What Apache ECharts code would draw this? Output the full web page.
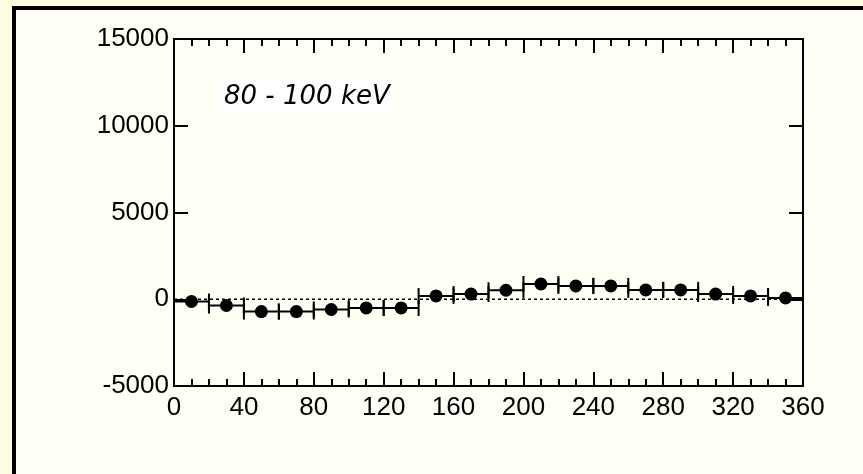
<!DOCTYPE html>
<html>
<head>
<meta charset="utf-8">
<script src="https://cdn.jsdelivr.net/npm/echarts@6/dist/echarts.min.js"></script>
<style>
  html, body { margin: 0; padding: 0; background: #FFFDE1; }
  #frame { position: absolute; left: 12px; top: 6px; width: 900px; height: 520px;
           border: 4px solid #000; background: #FFFFF6; }
  #main { position: absolute; left: 0; top: 0; width: 863px; height: 474px; }
</style>
</head>
<body>
<div id="frame"></div>
<div id="main"></div>
<script>
// bin centres (deg) and counts
var angles = [10, 30, 50, 70, 90, 110, 130, 150, 170, 190, 210, 230, 250, 270, 290, 310, 330, 350];
var counts = [-130, -360, -710, -710, -590, -500, -500, 190, 300, 520, 880, 770, 770, 540, 540, 300, 190, 75];
var xTicks = [0, 40, 80, 120, 160, 200, 240, 280, 320, 360];
var yTicks = [-5000, 0, 5000, 10000, 15000];
var binHalf = 10;

var points = angles.map(function (a, i) { return [a, counts[i]]; });

var chart = echarts.init(document.getElementById('main'));

var labelFont = { color: '#000', fontFamily: 'Liberation Sans, Arial', fontSize: 26,
                  formatter: function (v) { return String(v); } };
var axisBase = {
  type: 'value',
  axisLine: { show: true, onZero: false, lineStyle: { color: '#000', width: 2 } },
  axisTick: { show: true, inside: true, length: 14, lineStyle: { color: '#000', width: 2 } },
  splitLine: { show: false }
};
var xMinor = { show: true, splitNumber: 4, length: 7, lineStyle: { color: '#000', width: 2 } };

chart.setOption({
  backgroundColor: 'transparent',
  animation: false,
  grid: { left: 174, right: 60, top: 39, bottom: 88 },
  xAxis: [
    Object.assign({}, axisBase, {
      position: 'bottom', min: xTicks[0], max: xTicks[xTicks.length - 1], interval: 40,
      minorTick: xMinor,
      axisLabel: Object.assign({ margin: 9 }, labelFont)
    }),
    Object.assign({}, axisBase, {
      position: 'top', min: xTicks[0], max: xTicks[xTicks.length - 1], interval: 40,
      minorTick: xMinor,
      axisLabel: { show: false }
    })
  ],
  yAxis: [
    Object.assign({}, axisBase, {
      position: 'left', min: yTicks[0], max: yTicks[yTicks.length - 1], interval: 5000,
      axisLabel: Object.assign({ margin: 5 }, labelFont)
    }),
    Object.assign({}, axisBase, {
      position: 'right', min: yTicks[0], max: yTicks[yTicks.length - 1], interval: 5000,
      axisLabel: { show: false }
    })
  ],
  graphic: [{
    type: 'text', left: 219, top: 80, z: 100,
    style: {
      text: '80 - 100 keV', fill: '#000',
      font: 'italic 26px "DejaVu Sans", Verdana',
      backgroundColor: '#fff', padding: [4, 5, 4, 5]
    }
  }],
  series: [
    {
      // zero reference line
      type: 'line', data: [[0, 0], [360, 0]], symbol: 'none', silent: true,
      lineStyle: { color: '#000', width: 1.5, type: [3, 3], opacity: 1 }, z: 1
    },
    {
      // horizontal bin widths with end caps
      type: 'custom', data: points, z: 2,
      renderItem: function (params, api) {
        var x = api.value(0), y = api.value(1);
        var p0 = api.coord([x - binHalf, y]);
        var p1 = api.coord([x + binHalf, y]);
        var st = { stroke: '#000', lineWidth: 2 };
        return {
          type: 'group',
          children: [
            { type: 'line', shape: { x1: p0[0], y1: p0[1], x2: p1[0], y2: p1[1] }, style: st },
            { type: 'line', shape: { x1: p0[0], y1: p0[1] - 8, x2: p0[0], y2: p0[1] + 8 }, style: st },
            { type: 'line', shape: { x1: p1[0], y1: p1[1] - 8, x2: p1[0], y2: p1[1] + 8 }, style: st }
          ]
        };
      }
    },
    {
      type: 'scatter', data: points, symbol: 'circle', symbolSize: 13, z: 3,
      itemStyle: { color: '#000', opacity: 1 }
    }
  ]
});
</script>
</body>
</html>
